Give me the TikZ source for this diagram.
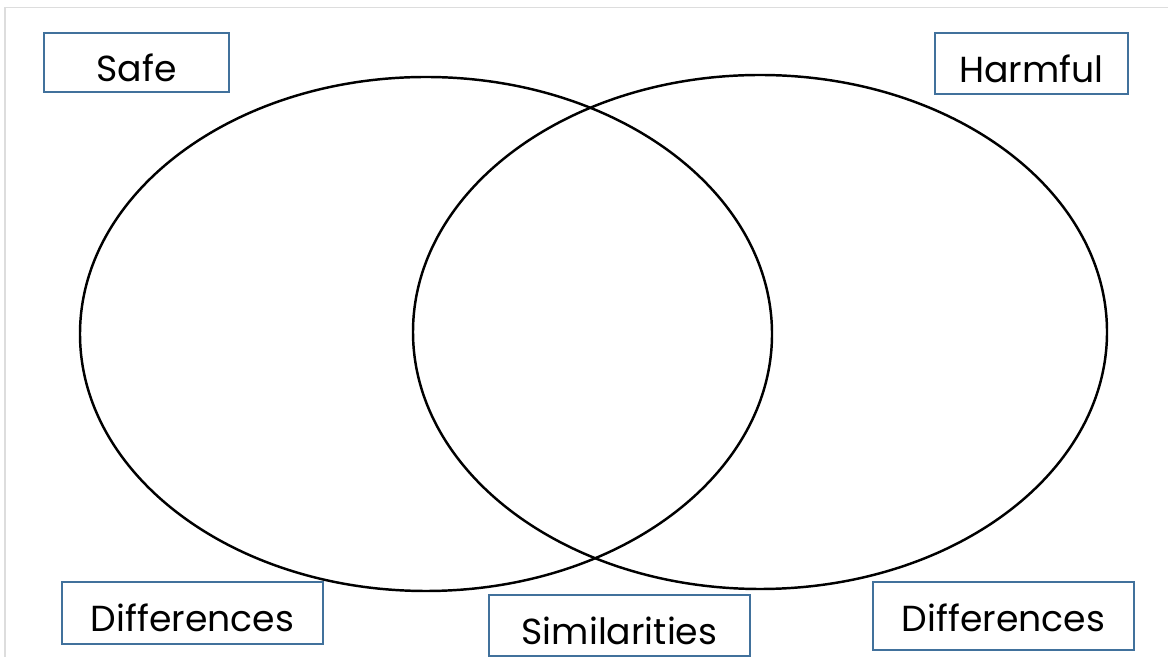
\documentclass[tikz,border=0pt]{standalone}
\usepackage{fontspec}
\setmainfont{Poppins}
\usepackage{tikz}
\definecolor{boxblue}{HTML}{41719C}
\definecolor{framegray}{HTML}{DDDDDD}

\begin{document}
\begin{tikzpicture}[
    labelbox/.style={draw=boxblue,line width=1.4pt,inner xsep=0pt,inner ysep=0pt,
      text height=0.98cm,anchor=north,font=\fontsize{20.6}{25}\selectfont},
    circ/.style={draw=black,line width=1.4pt}
  ]
  \useasboundingbox[fill=white] (0,0) rectangle (23.36,13.14);
  \draw[framegray,line width=0.6pt] (0.1,0) -- (0.1,12.99) -- (23.36,12.99);

  \coordinate (lc) at (8.52,6.46);
  \coordinate (rc) at (15.20,6.50);
  \draw[circ] (lc) ellipse[x radius=6.92cm,y radius=5.14cm];
  \draw[circ] (rc) ellipse[x radius=6.94cm,y radius=5.14cm];

  \node[labelbox,minimum width=3.70cm,text height=0.96cm,text depth=0.22cm] (safe) at (2.73,12.50) {Safe};
  \node[labelbox,minimum width=3.86cm,text depth=0.24cm] (harmful) at (20.63,12.50) {Harmful};
  \node[labelbox,minimum width=5.22cm,text depth=0.26cm] (diffl) at (3.85,1.52) {Differences};
  \node[labelbox,minimum width=5.22cm,text depth=0.24cm] (sim) at (12.39,1.26) {Similarities};
  \node[labelbox,minimum width=5.22cm,text depth=0.38cm] (diffr) at (20.07,1.52) {Differences};
\end{tikzpicture}
\end{document}
